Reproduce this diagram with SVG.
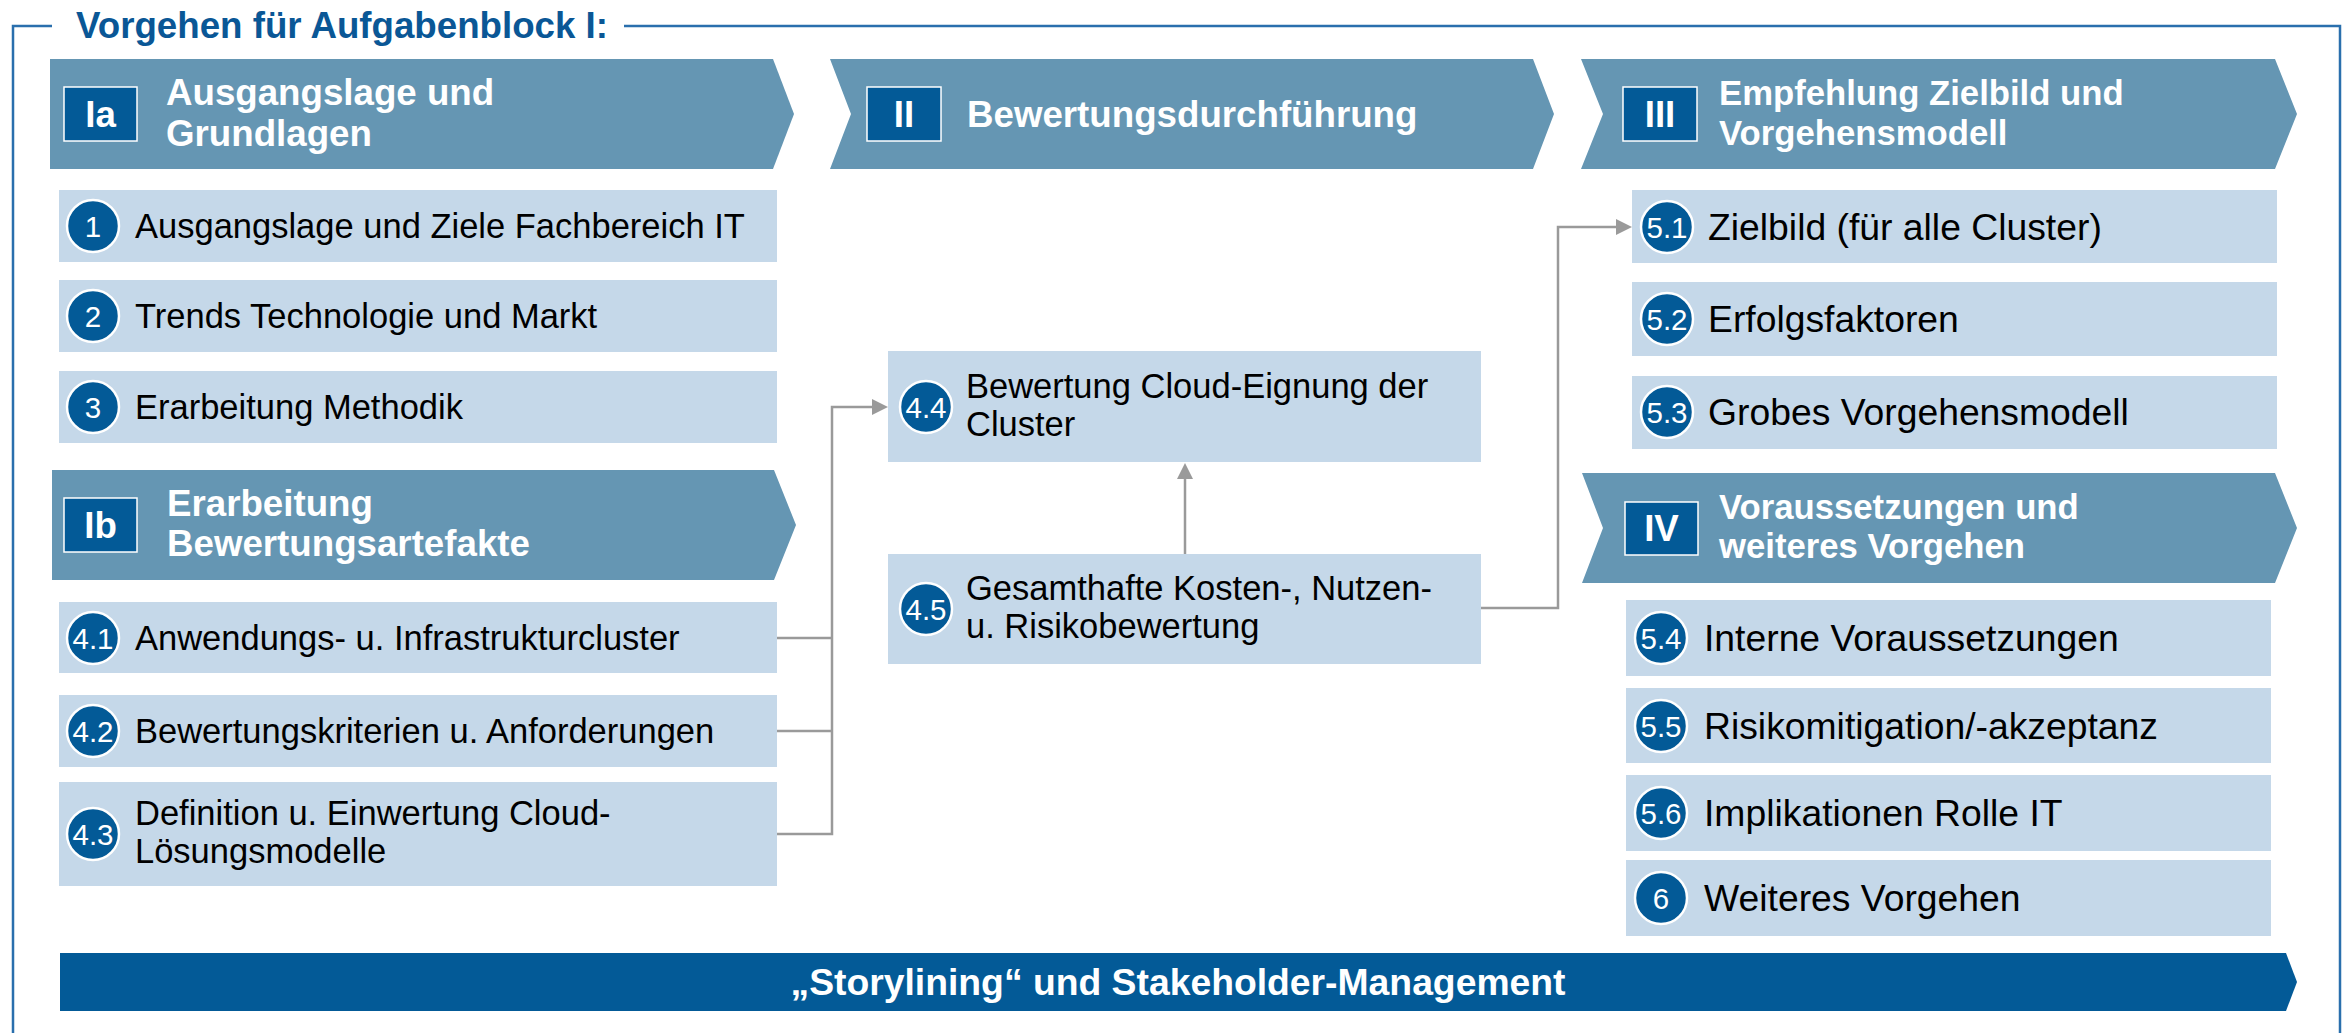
<svg xmlns="http://www.w3.org/2000/svg" width="2351" height="1033" viewBox="0 0 2351 1033">
  <defs>
    <style>
      text { font-family: "Liberation Sans", Arial, sans-serif; }
      .frame { fill: none; stroke: #2a6fad; stroke-width: 2.5; }
      .title { font-size: 36.7px; font-weight: bold; fill: #0a5796; }
      .phase { fill: #6596b3; }
      .tag { fill: #035a97; stroke: #ffffff; stroke-width: 1.5; }
      .tagtxt { font-size: 36.7px; font-weight: bold; fill: #ffffff; text-anchor: middle; }
      .phtxt { font-size: 36.7px; font-weight: bold; fill: #ffffff; }
      .phtxt-r { font-size: 34.7px; font-weight: bold; fill: #ffffff; }
      .item { fill: #c5d8e9; }
      .num { fill: #035a97; stroke: #ffffff; stroke-width: 2.5; }
      .numtxt { font-size: 29.5px; fill: #ffffff; text-anchor: middle; }
      .itxt { font-size: 34.5px; fill: #000000; }
      .itxt-r { font-size: 37.3px; fill: #000000; }
      .bar { fill: #035a97; }
      .bartxt { font-size: 37.3px; font-weight: bold; fill: #ffffff; text-anchor: middle; }
      .conn { fill: none; stroke: #9a9a9a; stroke-width: 2.5; }
    </style>
    <marker id="arrow" viewBox="0 0 16 16" refX="0" refY="8" markerWidth="16" markerHeight="16" markerUnits="userSpaceOnUse" orient="auto">
      <path d="M0,0 L16,8 L0,16 z" fill="#9a9a9a"/>
    </marker>
  </defs>

  <rect x="0" y="0" width="2351" height="1033" fill="#ffffff"/>

  <!-- outer frame with title -->
  <g id="frame">
    <path class="frame" d="M13,1040 V26 H52"/>
    <path class="frame" d="M624,26 H2340 V1040"/>
    <text class="title" x="76" y="38">Vorgehen für Aufgabenblock I:</text>
  </g>

  <!-- phase headers -->
  <g id="phase-Ia">
    <polygon class="phase" points="50,59 773,59 794,114 773,169 50,169"/>
    <rect class="tag" x="64" y="87" width="73" height="54"/>
    <text class="tagtxt" x="100.5" y="127">Ia</text>
    <text class="phtxt" x="166" y="105">Ausgangslage und</text>
    <text class="phtxt" x="166" y="146">Grundlagen</text>
  </g>

  <g id="phase-II">
    <polygon class="phase" points="830,59 1533,59 1554,114 1533,169 830,169 851,114"/>
    <rect class="tag" x="867" y="87" width="74" height="54"/>
    <text class="tagtxt" x="904" y="127">II</text>
    <text class="phtxt" x="967" y="127">Bewertungsdurchführung</text>
  </g>

  <g id="phase-III">
    <polygon class="phase" points="1581,59 2275,59 2297,114 2275,169 1581,169 1603,114"/>
    <rect class="tag" x="1623" y="87" width="74" height="54"/>
    <text class="tagtxt" x="1660" y="127">III</text>
    <text class="phtxt-r" x="1719" y="105">Empfehlung Zielbild und</text>
    <text class="phtxt-r" x="1719" y="145">Vorgehensmodell</text>
  </g>

  <g id="phase-Ib">
    <polygon class="phase" points="52,470 774,470 796,525 774,580 52,580"/>
    <rect class="tag" x="64" y="498" width="73" height="54"/>
    <text class="tagtxt" x="100.5" y="538">Ib</text>
    <text class="phtxt" x="167" y="516">Erarbeitung</text>
    <text class="phtxt" x="167" y="556">Bewertungsartefakte</text>
  </g>

  <g id="phase-IV">
    <polygon class="phase" points="1582,473 2275,473 2297,528 2275,583 1582,583 1603,528"/>
    <rect class="tag" x="1625" y="502" width="73" height="53"/>
    <text class="tagtxt" x="1661.5" y="541">IV</text>
    <text class="phtxt-r" x="1719" y="519">Voraussetzungen und</text>
    <text class="phtxt-r" x="1719" y="558">weiteres Vorgehen</text>
  </g>

  <!-- connectors -->
  <g id="connectors">
    <path class="conn" d="M777,638 H832"/>
    <path class="conn" d="M777,731 H832"/>
    <path class="conn" d="M777,834 H832 V407 H872" marker-end="url(#arrow)"/>
    <path class="conn" d="M1185,554 V479" marker-end="url(#arrow)"/>
    <path class="conn" d="M1481,608 H1558 V227 H1616" marker-end="url(#arrow)"/>
  </g>

  <!-- work items, column I -->
  <g id="item-1">
    <rect class="item" x="59" y="190" width="718" height="72"/>
    <circle class="num" cx="93" cy="226" r="26"/>
    <text class="numtxt" x="93" y="236.5">1</text>
    <text class="itxt" x="135" y="238">Ausgangslage und Ziele Fachbereich IT</text>
  </g>
  <g id="item-2">
    <rect class="item" x="59" y="280" width="718" height="72"/>
    <circle class="num" cx="93" cy="316" r="26"/>
    <text class="numtxt" x="93" y="326.5">2</text>
    <text class="itxt" x="135" y="328">Trends Technologie und Markt</text>
  </g>
  <g id="item-3">
    <rect class="item" x="59" y="371" width="718" height="72"/>
    <circle class="num" cx="93" cy="407" r="26"/>
    <text class="numtxt" x="93" y="417.5">3</text>
    <text class="itxt" x="135" y="419">Erarbeitung Methodik</text>
  </g>
  <g id="item-4-1">
    <rect class="item" x="59" y="602" width="718" height="71"/>
    <circle class="num" cx="93" cy="638" r="26"/>
    <text class="numtxt" x="93" y="648.5">4.1</text>
    <text class="itxt" x="135" y="650">Anwendungs- u. Infrastrukturcluster</text>
  </g>
  <g id="item-4-2">
    <rect class="item" x="59" y="695" width="718" height="72"/>
    <circle class="num" cx="93" cy="731" r="26"/>
    <text class="numtxt" x="93" y="741.5">4.2</text>
    <text class="itxt" x="135" y="743">Bewertungskriterien u. Anforderungen</text>
  </g>
  <g id="item-4-3">
    <rect class="item" x="59" y="782" width="718" height="104"/>
    <circle class="num" cx="93" cy="834" r="26"/>
    <text class="numtxt" x="93" y="844.5">4.3</text>
    <text class="itxt" x="135" y="825">Definition u. Einwertung Cloud-</text>
    <text class="itxt" x="135" y="863">Lösungsmodelle</text>
  </g>

  <!-- work items, column II -->
  <g id="item-4-4">
    <rect class="item" x="888" y="351" width="593" height="111"/>
    <circle class="num" cx="926" cy="407" r="26"/>
    <text class="numtxt" x="926" y="417.5">4.4</text>
    <text class="itxt" x="966" y="398">Bewertung Cloud-Eignung der</text>
    <text class="itxt" x="966" y="436">Cluster</text>
  </g>
  <g id="item-4-5">
    <rect class="item" x="888" y="554" width="593" height="110"/>
    <circle class="num" cx="926" cy="609" r="26"/>
    <text class="numtxt" x="926" y="619.5">4.5</text>
    <text class="itxt" x="966" y="600">Gesamthafte Kosten-, Nutzen-</text>
    <text class="itxt" x="966" y="638">u. Risikobewertung</text>
  </g>

  <!-- work items, column III / IV -->
  <g id="item-5-1">
    <rect class="item" x="1632" y="190" width="645" height="73"/>
    <circle class="num" cx="1667" cy="227" r="26"/>
    <text class="numtxt" x="1667" y="237.5">5.1</text>
    <text class="itxt-r" x="1708" y="240">Zielbild (für alle Cluster)</text>
  </g>
  <g id="item-5-2">
    <rect class="item" x="1632" y="282" width="645" height="74"/>
    <circle class="num" cx="1667" cy="319" r="26"/>
    <text class="numtxt" x="1667" y="329.5">5.2</text>
    <text class="itxt-r" x="1708" y="332">Erfolgsfaktoren</text>
  </g>
  <g id="item-5-3">
    <rect class="item" x="1632" y="376" width="645" height="73"/>
    <circle class="num" cx="1667" cy="412" r="26"/>
    <text class="numtxt" x="1667" y="422.5">5.3</text>
    <text class="itxt-r" x="1708" y="425">Grobes Vorgehensmodell</text>
  </g>
  <g id="item-5-4">
    <rect class="item" x="1626" y="600" width="645" height="76"/>
    <circle class="num" cx="1661" cy="638" r="26"/>
    <text class="numtxt" x="1661" y="648.5">5.4</text>
    <text class="itxt-r" x="1704" y="651">Interne Voraussetzungen</text>
  </g>
  <g id="item-5-5">
    <rect class="item" x="1626" y="688" width="645" height="75"/>
    <circle class="num" cx="1661" cy="726" r="26"/>
    <text class="numtxt" x="1661" y="736.5">5.5</text>
    <text class="itxt-r" x="1704" y="739">Risikomitigation/-akzeptanz</text>
  </g>
  <g id="item-5-6">
    <rect class="item" x="1626" y="775" width="645" height="76"/>
    <circle class="num" cx="1661" cy="813" r="26"/>
    <text class="numtxt" x="1661" y="823.5">5.6</text>
    <text class="itxt-r" x="1704" y="826">Implikationen Rolle IT</text>
  </g>
  <g id="item-6">
    <rect class="item" x="1626" y="860" width="645" height="76"/>
    <circle class="num" cx="1661" cy="898" r="26"/>
    <text class="numtxt" x="1661" y="908.5">6</text>
    <text class="itxt-r" x="1704" y="911">Weiteres Vorgehen</text>
  </g>

  <!-- cross-cutting bar -->
  <g id="storylining">
    <polygon class="bar" points="60,953 2286,953 2297,982 2286,1011 60,1011"/>
    <text class="bartxt" x="1178" y="995">„Storylining“ und Stakeholder-Management</text>
  </g>
</svg>
